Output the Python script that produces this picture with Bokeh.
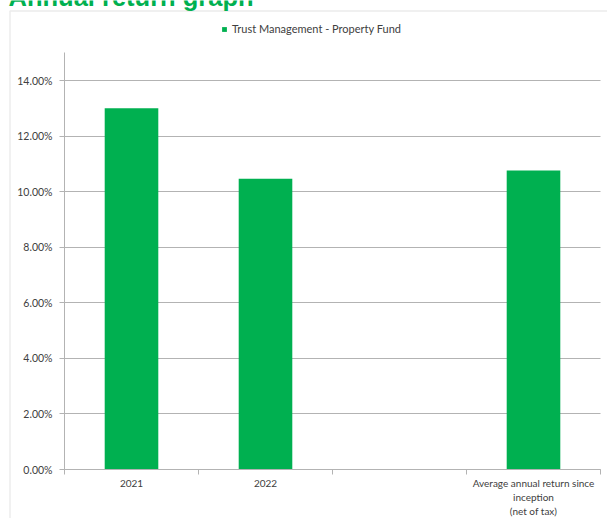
from bokeh.plotting import figure
from bokeh.models import (FixedTicker, NumeralTickFormatter, Legend, LegendItem,
                          Label, PolyAnnotation, Range1d)
from bokeh.embed import file_html
from bokeh.resources import INLINE

# ---- data ----
categories = ["2021", "2022", "", "Average annual return since\ninception\n(net of tax)"]
returns = [0.130, 0.1046, None, 0.1076]
series_name = "Trust Management - Property Fund"
title_text = "Annual return graph"
y_ticks = [0.0, 0.02, 0.04, 0.06, 0.08, 0.10, 0.12, 0.14]
y_axis_max = 0.15

# ---- style / layout ----
GREEN = "#00b050"
GREY = "#b3b3b3"
BORDER = "#c0c0c0"
TXT = "#404040"
FONT = "Lato"
W, H = 607, 518
PLOT_L, PLOT_R = 64, 600      # pixel x of category axis start / end
Y0_PX, Y14_PX = 469, 80       # pixel y of 0% and 14%

n = len(categories)
ppx = (PLOT_R - PLOT_L) / n
ppy = (Y0_PX - Y14_PX) / y_ticks[-1]
x_lo = -PLOT_L / ppx
x_hi = n + (W - PLOT_R) / ppx
y_lo = -(H - Y0_PX) / ppy
y_hi = y_ticks[-1] + Y14_PX / ppy


def dx(px):
    return x_lo + px / ppx


def dy(py):
    return y_hi - py / ppy


p = figure(width=W, height=H, x_range=Range1d(x_lo, x_hi), y_range=Range1d(y_lo, y_hi),
           output_backend="svg", toolbar_location=None,
           min_border_left=0, min_border_right=0, min_border_top=0, min_border_bottom=0)
p.outline_line_color = None
p.background_fill_color = "white"
p.border_fill_color = "white"

bx = [i + 0.5 for i, v in enumerate(returns) if v is not None]
by = [v for v in returns if v is not None]
bars = p.vbar(x=bx, top=by, width=0.4, bottom=0, fill_color=GREEN, line_color=None)

# x axis (category boundaries as tick marks, labels centred in slots)
xa = p.xaxis[0]
xa.fixed_location = 0
xa.bounds = (0, n)
label_pos = [i + 0.5 for i, c in enumerate(categories) if c]
xa.ticker = FixedTicker(ticks=label_pos, minor_ticks=list(range(n + 1)))
xa.major_label_overrides = {i + 0.5: c for i, c in enumerate(categories) if c}
xa.major_tick_out = 0
xa.major_tick_in = 0
xa.major_tick_line_color = None
xa.minor_tick_out = 5
xa.minor_tick_in = 0
xa.minor_tick_line_color = GREY
xa.axis_line_color = GREY
xa.major_label_standoff = 2
xa.major_label_text_font = FONT
xa.major_label_text_font_size = "10px"
xa.major_label_text_color = TXT
p.xgrid.visible = False

# y axis
ya = p.yaxis[0]
ya.fixed_location = 0
ya.bounds = (0, y_axis_max)
ya.ticker = FixedTicker(ticks=y_ticks)
ya.formatter = NumeralTickFormatter(format="0.00%")
ya.axis_line_color = GREY
ya.major_tick_line_color = GREY
ya.major_tick_out = 5
ya.major_tick_in = 0
ya.minor_tick_line_color = None
ya.major_label_standoff = 7
ya.major_label_text_font = FONT
ya.major_label_text_font_size = "10.5px"
ya.major_label_text_color = TXT
p.ygrid.ticker = FixedTicker(ticks=y_ticks)
p.ygrid.cross_bounds = (0, n)
p.ygrid.grid_line_color = GREY
p.ygrid.grid_line_width = 1

# legend
legend = Legend(items=[LegendItem(label=series_name, renderers=[bars])],
                location=(221, H - 35), orientation="horizontal",
                glyph_width=6, glyph_height=6, label_standoff=5, label_height=13,
                padding=0, margin=0, border_line_color=None, background_fill_alpha=0,
                label_text_font=FONT, label_text_font_size="11px", label_text_color=TXT)
p.add_layout(legend, "center")

# chart-area border (only its top and left edges are inside the window)
p.add_layout(PolyAnnotation(xs=[dx(9.5), dx(9.5), dx(W + 20), dx(W + 20)],
                            ys=[dy(H + 20), dy(10.5), dy(10.5), dy(H + 20)],
                            fill_alpha=0, line_color=BORDER, line_width=1.5))

# title (its upper part lies above the window, as in the reference)
p.add_layout(Label(x=dx(8), y=dy(-4), text=title_text, text_font="Liberation Sans",
                   text_font_style="bold", text_font_size="25.5px", text_color=GREEN,
                   text_baseline="alphabetic"))

open("out.html", "w").write(file_html(p, INLINE))
